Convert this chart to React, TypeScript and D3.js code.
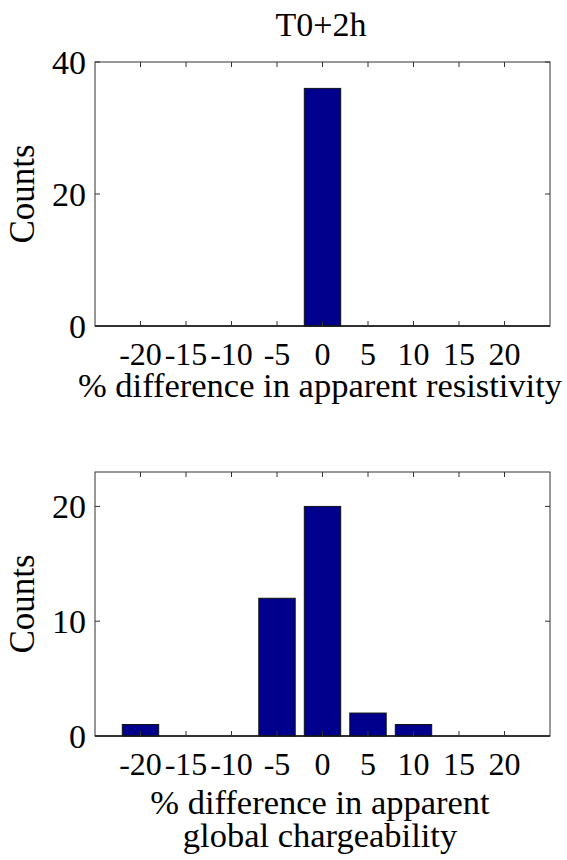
import { useRef, useEffect } from 'react';
import * as d3 from 'd3';

const binCenters = [-20, -15, -10, -5, 0, 5, 10, 15, 20];
const resistivityCounts = [0, 0, 0, 0, 36, 0, 0, 0, 0];
const chargeabilityCounts = [1, 0, 0, 12, 20, 2, 1, 0, 0];
const xTicks = [-20, -15, -10, -5, 0, 5, 10, 15, 20];
const topYTicks = [0, 20, 40];
const bottomYTicks = [0, 10, 20];

const FONT = '"Liberation Serif", "Times New Roman", serif';

export default function App() {
  const svgRef = useRef<SVGSVGElement>(null);

  useEffect(() => {
    const svg = d3.select(svgRef.current);
    svg.selectAll('*').remove();

    const left = 95;
    const right = 550;
    const xScale = d3.scaleLinear().domain([-25, 25]).range([left, right]);

    svg
      .append('text')
      .attr('x', 321)
      .attr('y', 36)
      .attr('text-anchor', 'middle')
      .attr('font-family', FONT)
      .attr('font-size', 34)
      .text('T0+2h');

    const drawPanel = (
      counts: number[],
      yMax: number,
      yTicks: number[],
      top: number,
      bottom: number,
      labelLines: string[],
      labelOffsets: number[],
    ) => {
      const yScale = d3.scaleLinear().domain([0, yMax]).range([bottom, top]);
      const g = svg.append('g');

      // bars (bar width 0.8 of the 5-unit bin)
      g.selectAll('rect.bar')
        .data(binCenters.map((c, i) => ({ c, v: counts[i] })).filter((d) => d.v > 0))
        .join('rect')
        .attr('class', 'bar')
        .attr('x', (d) => xScale(d.c - 2))
        .attr('width', (d) => xScale(d.c + 2) - xScale(d.c - 2))
        .attr('y', (d) => yScale(d.v))
        .attr('height', (d) => yScale(0) - yScale(d.v))
        .attr('fill', '#00008c')
        .attr('stroke', '#111')
        .attr('stroke-width', 1);

      // box
      g.append('rect')
        .attr('x', left)
        .attr('y', top)
        .attr('width', right - left)
        .attr('height', bottom - top)
        .attr('fill', 'none')
        .attr('stroke', '#333')
        .attr('stroke-width', 1);
      g.append('line')
        .attr('x1', left)
        .attr('x2', right)
        .attr('y1', bottom)
        .attr('y2', bottom)
        .attr('stroke', '#111')
        .attr('stroke-width', 1.5);

      const tl = 5;
      // x ticks, inward on both edges
      xTicks.forEach((t) => {
        const x = xScale(t);
        g.append('line').attr('x1', x).attr('x2', x).attr('y1', bottom).attr('y2', bottom - tl).attr('stroke', '#333');
        g.append('line').attr('x1', x).attr('x2', x).attr('y1', top).attr('y2', top + tl).attr('stroke', '#333');
      });
      g.selectAll('text.xt')
        .data(xTicks)
        .join('text')
        .attr('class', 'xt')
        .attr('x', (d) => xScale(d))
        .attr('y', bottom + 39)
        .attr('text-anchor', 'middle')
        .attr('font-family', FONT)
        .attr('font-size', 32)
        .text((d) => String(d));

      // y ticks
      yTicks.forEach((t) => {
        const y = yScale(t);
        g.append('line').attr('x1', left).attr('x2', left + tl).attr('y1', y).attr('y2', y).attr('stroke', '#333');
        g.append('line').attr('x1', right).attr('x2', right - tl).attr('y1', y).attr('y2', y).attr('stroke', '#333');
      });
      g.selectAll('text.yt')
        .data(yTicks)
        .join('text')
        .attr('class', 'yt')
        .attr('x', left - 9)
        .attr('y', (d) => yScale(d) + 12)
        .attr('text-anchor', 'end')
        .attr('font-family', FONT)
        .attr('font-size', 34)
        .text((d) => String(d));

      g.append('text')
        .attr('transform', `translate(34, ${(top + bottom) / 2}) rotate(-90)`)
        .attr('text-anchor', 'middle')
        .attr('font-family', FONT)
        .attr('font-size', 35)
        .text('Counts');

      labelLines.forEach((line, i) => {
        g.append('text')
          .attr('x', 320)
          .attr('y', bottom + labelOffsets[i])
          .attr('text-anchor', 'middle')
          .attr('font-family', FONT)
          .attr('font-size', 34.5)
          .text(line);
      });
    };

    drawPanel(resistivityCounts, 40, topYTicks, 62, 326, ['% difference in apparent resistivity'], [71]);
    drawPanel(
      chargeabilityCounts,
      23,
      bottomYTicks,
      472,
      736,
      ['% difference in apparent', 'global chargeability'],
      [78, 111],
    );
  }, []);

  return (
    <svg
      ref={svgRef}
      width={567}
      height={860}
      style={{ position: 'absolute', left: 0, top: 0, background: '#fff' }}
    />
  );
}
